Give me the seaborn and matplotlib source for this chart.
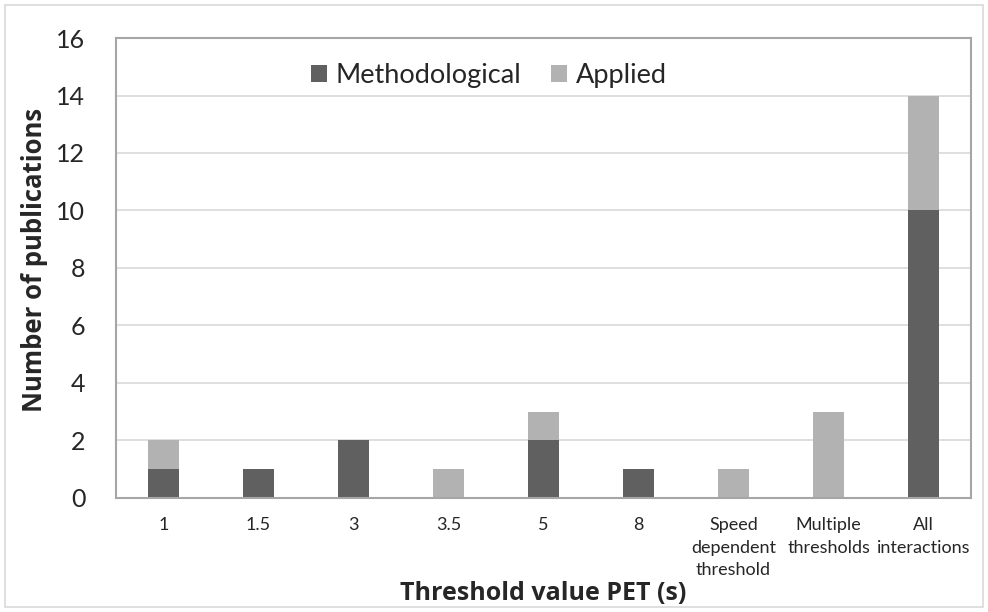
import matplotlib
matplotlib.use("Agg")
import matplotlib.pyplot as plt
import seaborn as sns
from matplotlib.patches import Rectangle

categories = ["1", "1.5", "3", "3.5", "5", "8", "Speed\ndependent\nthreshold",
              "Multiple\nthresholds", "All\ninteractions"]
methodological = [1, 1, 2, 0, 2, 1, 0, 0, 10]
applied = [1, 0, 0, 1, 1, 0, 1, 3, 4]
y_ticks = [0, 2, 4, 6, 8, 10, 12, 14, 16]

dark = "#606060"
light = "#b2b2b2"

sns.set_theme(style="white")
plt.rcParams["font.family"] = ["Lato", "DejaVu Sans"]

fig = plt.figure(figsize=(9.88, 6.12), dpi=100)
ax = fig.add_axes([0.1174, 0.1863, 0.8654, 0.7516])

sns.barplot(x=categories, y=methodological, color=dark, width=0.32,
            saturation=1, label="Methodological", ax=ax, edgecolor="none")
sns.barplot(x=categories, y=applied, bottom=methodological, color=light,
            width=0.32, saturation=1, label="Applied", ax=ax, edgecolor="none")

ax.set_ylim(0, 16)
ax.set_xlim(-0.5, len(categories) - 0.5)
ax.set_yticks(y_ticks)
ax.set_yticklabels([str(v) for v in y_ticks], fontsize=18)
ax.tick_params(axis="x", labelsize=13, length=0, pad=14)
for t in ax.get_xticklabels():
    t.set_linespacing(1.5)
ax.tick_params(axis="y", length=0, pad=22)
ax.yaxis.grid(True, color="#d9d9d9", linewidth=1.2)
ax.set_axisbelow(True)
for s in ax.spines.values():
    s.set_visible(True)
    s.set_color("#a6a6a6")
    s.set_linewidth(1.5)

ax.set_xlabel("Threshold value PET (s)", fontsize=18, fontweight="bold",
              family=["Open Sans", "DejaVu Sans"], labelpad=2)
ax.set_ylabel("Number of publications", fontsize=18.5, fontweight="bold",
              family=["Open Sans", "DejaVu Sans"])
ax.yaxis.set_label_coords(-0.079, 0.517)

ax.legend(loc="center", bbox_to_anchor=(0.436, 0.918), ncol=2, frameon=False,
          fontsize=19.5, handlelength=0.6, handleheight=0.6, handletextpad=0.3,
          columnspacing=1.1)

fig.patches.append(Rectangle((0.005, 0.008), 0.99, 0.984, transform=fig.transFigure,
                             fill=False, edgecolor="#d9d9d9", linewidth=1.2))

fig.savefig("out.png", dpi=100, facecolor="white")
